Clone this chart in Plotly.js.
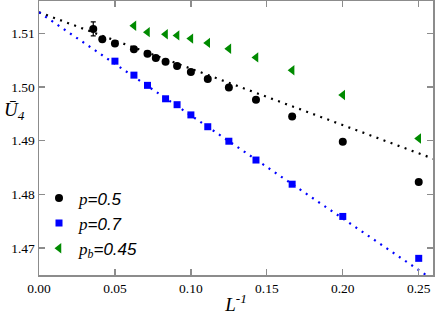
<!DOCTYPE html>
<html>
<head>
<meta charset="utf-8">
<script src="https://cdn.plot.ly/plotly-3.0.1.min.js"></script>
<style>html,body{margin:0;padding:0;background:#fff;}#chart{width:436px;height:315px;}</style>
</head>
<body>
<div id="chart"></div>
<script>
// System sizes L, plotted as 1/L
const L_p05 = [28, 24, 20, 16, 14, 13, 12, 11, 10, 9, 8, 7, 6, 5, 4];
const U4_p05 = [1.5108, 1.5089, 1.5081, 1.5070, 1.5062, 1.5054, 1.5047, 1.5039, 1.5028, 1.5015, 1.4999, 1.4976, 1.4945, 1.4898, 1.4823];
const err_p05 = [0.0013, 0, 0, 0, 0, 0, 0, 0, 0, 0, 0, 0, 0, 0, 0];

const L_p07 = [20, 16, 14, 12, 11, 10, 9, 8, 7, 6, 5, 4];
const U4_p07 = [1.5048, 1.5022, 1.5003, 1.4978, 1.4967, 1.4948, 1.4926, 1.4899, 1.4864, 1.4819, 1.4759, 1.4681];

const L_pb045 = [16, 14, 12, 11, 10, 9, 8, 7, 6, 5, 4];
const U4_pb045 = [1.5114, 1.5102, 1.5098, 1.5096, 1.5090, 1.5082, 1.5071, 1.5055, 1.5031, 1.4985, 1.4904];

// Linear fits: endpoints (L^-1, U4)
const fit_p05_x = [0, 0.26];
const fit_p05_y = [1.5139, 1.4866];
const fit_p07_x = [0, 0.26];
const fit_p07_y = [1.5139, 1.4640];

const inv = a => a.map(v => 1 / v);

const serif = '"Liberation Serif", "Times New Roman", Times, serif';
const dotDash = '2px,5.5px';

const traces = [
  {x: fit_p05_x, y: fit_p05_y, mode: 'lines', line: {color: '#000000', width: 2.2, dash: dotDash}, showlegend: false, hoverinfo: 'skip'},
  {x: fit_p07_x, y: fit_p07_y, mode: 'lines', line: {color: '#0000ff', width: 2.2, dash: dotDash}, showlegend: false, hoverinfo: 'skip'},
  {x: inv(L_p05), y: U4_p05, mode: 'markers', name: '<i>p</i><span style="font-family:\'Liberation Sans\'"><i>=0.5</i></span>',
   marker: {symbol: 'circle', color: '#000000', size: 8},
   error_y: {type: 'data', array: err_p05, visible: true, color: '#000000', thickness: 1.2, width: 2.5}},
  {x: inv(L_p07), y: U4_p07, mode: 'markers', name: '<i>p</i><span style="font-family:\'Liberation Sans\'"><i>=0.7</i></span>',
   marker: {symbol: 'square', color: '#0000ff', size: 7}},
  {x: inv(L_pb045), y: U4_pb045, mode: 'markers', name: '<i>p</i><sub><i>b</i></sub><span style="font-family:\'Liberation Sans\'"><i>=0.45</i></span>',
   marker: {symbol: 'triangle-left', color: 'rgb(0,139,0)', size: 9}}
];

const axisCommon = {
  showgrid: false, zeroline: false,
  showline: true, linecolor: '#8c8c8c', linewidth: 1.5, mirror: 'ticks',
  ticks: 'inside', ticklen: 6, tickwidth: 1.3, tickcolor: '#8c8c8c',
  tickfont: {family: serif, size: 13.5, color: '#000000'}
};

const layout = {
  width: 436, height: 315,
  margin: {l: 39, r: 3, t: 1, b: 40},
  paper_bgcolor: '#ffffff', plot_bgcolor: '#ffffff',
  font: {family: serif, color: '#000000'},
  xaxis: Object.assign({}, axisCommon, {
    range: [0, 0.2594], tickvals: [0, 0.05, 0.10, 0.15, 0.20, 0.25],
    ticktext: ['0.00', '0.05', '0.10', '0.15', '0.20', '0.25'],
    title: {text: '<i>L</i><sup><i>-1</i></sup>', font: {family: serif, size: 19}, standoff: 4}
  }),
  yaxis: Object.assign({}, axisCommon, {
    range: [1.465, 1.516], tickvals: [1.47, 1.48, 1.49, 1.50, 1.51],
    ticktext: ['1.47', '1.48', '1.49', '1.50', '1.51']
  }),
  legend: {
    x: 0.0, y: 0.345, xanchor: 'left', yanchor: 'top',
    bgcolor: 'rgba(0,0,0,0)', font: {family: serif, size: 17, color: '#000000'},
    itemwidth: 30, tracegroupgap: 0
  },
  annotations: [{
    xref: 'paper', yref: 'paper', x: -0.094, y: 0.60, xanchor: 'left', yanchor: 'middle',
    text: '<i>Ū</i><sub><i>4</i></sub>', showarrow: false,
    font: {family: serif, size: 19, color: '#000000'}
  }],
  showlegend: true
};

Plotly.newPlot('chart', traces, layout, {displayModeBar: false, staticPlot: true});
</script>
</body>
</html>
